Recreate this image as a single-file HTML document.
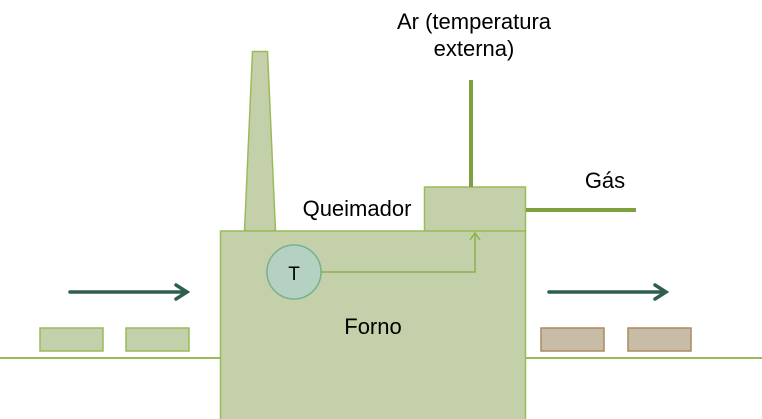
<!DOCTYPE html>
<html><head><meta charset="utf-8"><style>
html,body{margin:0;padding:0;background:#fff;}
svg{display:block;}
text{font-family:"Liberation Sans",Arial,sans-serif;fill:#000;}
</style></head><body>
<svg width="762" height="419" viewBox="0 0 762 419" xmlns="http://www.w3.org/2000/svg">
<line x1="0" y1="358" x2="762" y2="358" stroke="#9bbb59" stroke-width="2"/>
<polygon points="244.5,231 252.5,51.5 267.5,51.5 275.5,231" fill="#c3d0a9" stroke="#9bbb59" stroke-width="1.5"/>
<rect x="424.5" y="187" width="101" height="44" fill="#c3d0a9" stroke="#9bbb59" stroke-width="1.5"/>
<rect x="220.5" y="231" width="305" height="190" fill="#c3d0a9" stroke="#9bbb59" stroke-width="1.5"/>
<line x1="471" y1="80" x2="471" y2="187" stroke="#7fa03e" stroke-width="4"/>
<line x1="526" y1="210" x2="636" y2="210" stroke="#7fa03e" stroke-width="4"/>
<circle cx="294" cy="272" r="27" fill="#b4d1c1" stroke="#79b092" stroke-width="1.5"/>
<polyline points="321,272 475,272 475,233" fill="none" stroke="#8cb04a" stroke-width="1.5"/>
<polyline points="470,240 475,233 480,240" fill="none" stroke="#8cb04a" stroke-width="1.5"/>
<rect x="40" y="328" width="63" height="23" fill="#c3d0a9" stroke="#9bbb59" stroke-width="1.5"/>
<rect x="126" y="328" width="63" height="23" fill="#c3d0a9" stroke="#9bbb59" stroke-width="1.5"/>
<rect x="541" y="328" width="63" height="23" fill="#c8bba8" stroke="#a88c5e" stroke-width="1.5"/>
<rect x="628" y="328" width="63" height="23" fill="#c8bba8" stroke="#a88c5e" stroke-width="1.5"/>
<g stroke="#2f5e4c" stroke-width="3.5" fill="none" stroke-linecap="round">
<line x1="70" y1="292" x2="186" y2="292"/>
<polyline points="176,285 187,292 176,299"/>
<line x1="549" y1="292" x2="665" y2="292"/>
<polyline points="655,285 666,292 655,299"/>
</g>
<text x="474" y="29" font-size="22" text-anchor="middle">Ar (temperatura</text>
<text x="474" y="56" font-size="22" text-anchor="middle">externa)</text>
<text x="605" y="188" font-size="22" text-anchor="middle">Gás</text>
<text x="357" y="216" font-size="22" text-anchor="middle">Queimador</text>
<text x="373" y="334" font-size="22" text-anchor="middle">Forno</text>
<text x="294" y="280" font-size="19" text-anchor="middle">T</text>
</svg>
</body></html>
